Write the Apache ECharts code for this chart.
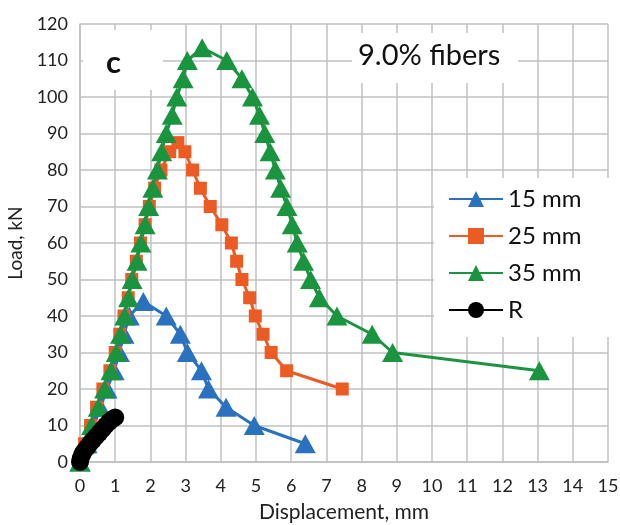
<!DOCTYPE html>
<html><head><meta charset="utf-8">
<script src="https://cdn.jsdelivr.net/npm/echarts@6/dist/echarts.min.js"></script>
<style>html,body{margin:0;padding:0;background:#fff}#c{width:620px;height:525px}</style>
</head><body><div id="c"></div>
<script>
var xTicks = [0,1,2,3,4,5,6,7,8,9,10,11,12,13,14,15];
var yTicks = [0,10,20,30,40,50,60,70,80,90,100,110,120];
var seriesNames = ['15 mm','25 mm','35 mm','R'];
var x15 = [0,0.2,0.4,0.58,0.77,0.97,1.12,1.25,1.4,1.8,2.45,2.85,3.05,3.45,3.65,4.15,4.95,6.4];
var y15 = [0,5,10,15,20,25,30,35,40,44,40,35,30,25,20,15,10,5];
var x25 = [0,0.13,0.3,0.47,0.65,0.85,1.0,1.13,1.25,1.37,1.47,1.6,1.72,1.85,1.97,2.12,2.3,2.55,2.78,2.98,3.2,3.42,3.7,4.03,4.3,4.45,4.6,4.82,4.98,5.2,5.43,5.87,7.45];
var y25 = [0,5,10,15,20,25,30,35,40,45,50,55,60,65,70,75,80,85,87.5,85,80,75,70,65,60,55,50,45,40,35,30,25,20];
var x35 = [0,0.15,0.33,0.52,0.7,0.88,1.03,1.15,1.27,1.38,1.48,1.62,1.73,1.85,1.95,2.07,2.2,2.32,2.45,2.62,2.75,2.93,3.05,3.47,4.17,4.6,4.9,5.1,5.25,5.4,5.55,5.7,5.88,6.03,6.17,6.35,6.55,6.8,7.3,8.3,8.88,13.05];
var y35 = [0,5,10,15,20,25,30,35,40,45,50,55,60,65,70,75,80,85,90,95,100,105,110,113.5,110,105,100,95,90,85,80,75,70,65,60,55,50,45,40,35,30,25];
var xR = [0,0.02,0.06,0.12,0.2,0.28,0.37,0.46,0.55,0.64,0.73,0.83,0.93,1.0];
var yR = [0,1,2,3,4,5,6,7,8,9,10,11,11.8,12.2];
var colors = ['#2a72c0','#ec5b24','#1b9440','#000000'];

function pairs(xs, ys){ return xs.map(function(v,i){ return [v, ys[i]]; }); }
var FONT = 'Lato';
var chart = echarts.init(document.getElementById('c'), null, {renderer:'canvas'});
var gridStyle = {color:'#c0c0c0', width:1.5};
chart.setOption({
  animation:false,
  color: colors,
  textStyle:{fontFamily:FONT},
  grid:{left:80, right:12, top:24, bottom:63, containLabel:false, outerBoundsMode:'none'},
  xAxis:{type:'value', min:0, max:15, interval:1,
    name:'Displacement, mm', nameLocation:'middle', nameGap:40,
    nameTextStyle:{fontSize:21, color:'#222', fontFamily:FONT},
    axisLine:{show:true, lineStyle:gridStyle}, axisTick:{show:false},
    splitLine:{show:true, lineStyle:gridStyle},
    axisLabel:{fontSize:18, color:'#222', margin:15, fontFamily:FONT,
      formatter:function(v){ return xTicks.indexOf(v)>=0 ? String(v) : ''; }}},
  yAxis:{type:'value', min:0, max:120, interval:10,
    name:'Load, kN', nameLocation:'middle', nameGap:52, nameRotate:90,
    nameTextStyle:{fontSize:19, color:'#222', fontFamily:FONT},
    axisLine:{show:true, lineStyle:gridStyle}, axisTick:{show:false},
    splitLine:{show:true, lineStyle:gridStyle},
    axisLabel:{fontSize:18, color:'#222', margin:12, fontFamily:FONT,
      formatter:function(v){ return yTicks.indexOf(v)>=0 ? String(v) : ''; }}},
  legend:{orient:'vertical', left:434, top:178, width:169,
    backgroundColor:'#fff', padding:[8,40,14,14], itemGap:11,
    itemWidth:54, itemHeight:20,
    textStyle:{fontSize:24, color:'#111', fontFamily:FONT, lineHeight:26},
    data:seriesNames},
  graphic:[
    {type:'rect', z:1, shape:{x:83, y:30, width:80, height:60}, style:{fill:'#fff'}},
    {type:'text', z:1, left:106, top:47, style:{text:'c', font:'bold 31px '+FONT, fill:'#111'}},
    {type:'rect', z:1, shape:{x:352, y:33, width:166, height:50}, style:{fill:'#fff'}},
    {type:'text', z:1, left:358, top:41, style:{text:'9.0% fibers', font:'29px '+FONT, fill:'#111'}}
  ],
  series:[
    {name:seriesNames[0], type:'line', data:pairs(x15,y15), symbol:'triangle', symbolSize:[21,19],
      lineStyle:{width:3}, itemStyle:{color:colors[0]}},
    {name:seriesNames[1], type:'line', data:pairs(x25,y25), symbol:'rect', symbolSize:13,
      lineStyle:{width:3}, itemStyle:{color:colors[1]}},
    {name:seriesNames[2], type:'line', data:pairs(x35,y35), symbol:'triangle', symbolSize:[21,19],
      lineStyle:{width:3}, itemStyle:{color:colors[2]}},
    {name:seriesNames[3], type:'line', data:pairs(xR,yR), symbol:'circle', symbolSize:18,
      lineStyle:{width:3}, itemStyle:{color:colors[3]}}
  ]
});
</script></body></html>
